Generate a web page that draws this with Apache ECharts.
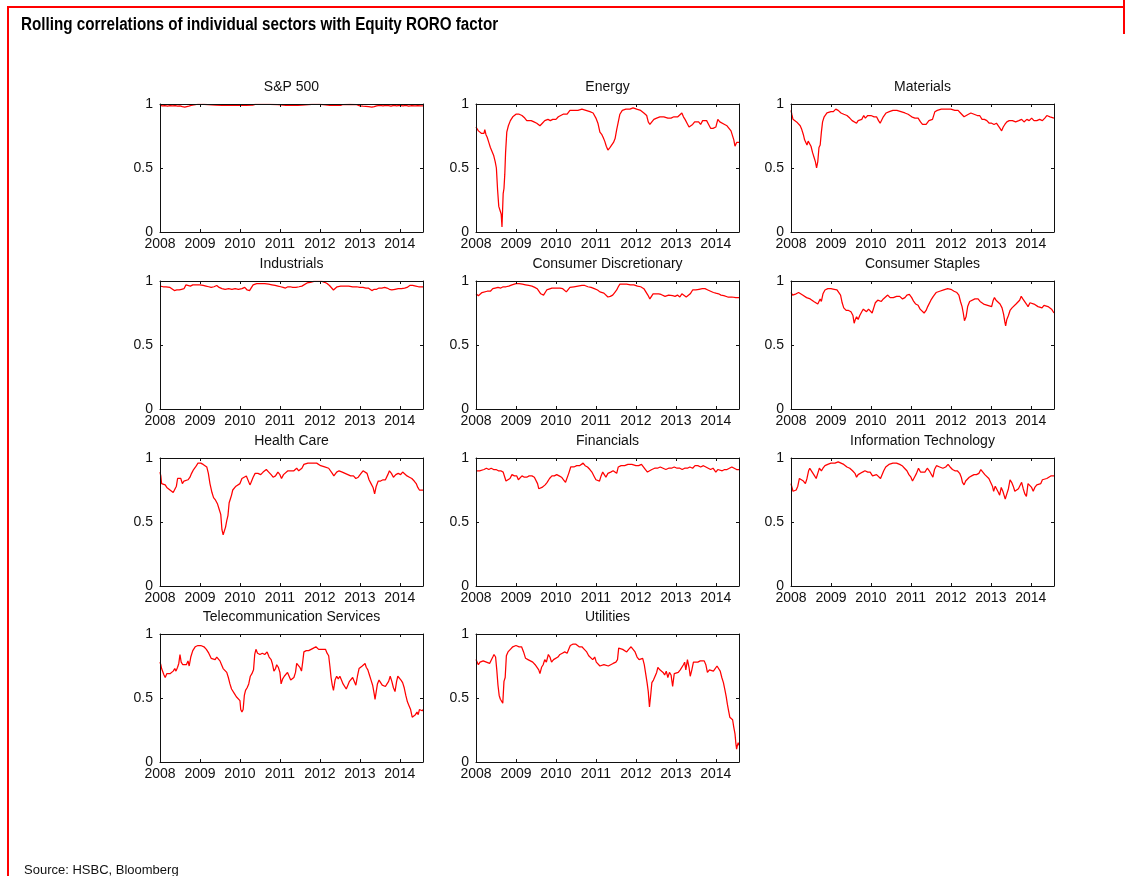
<!DOCTYPE html>
<html>
<head>
<meta charset="utf-8">
<script src="https://cdn.jsdelivr.net/npm/echarts@6/dist/echarts.min.js"></script>
<style>
  html, body { margin: 0; padding: 0; background: #fff; }
  #chart { width: 1130px; height: 876px; }
</style>
</head>
<body>
<div id="chart"></div>
<script>
// Rolling correlation of each sector with the Equity RORO factor, [year, correlation]
const sp500 = [[2008.00,0.990],[2008.06,0.986],[2008.12,0.988],[2008.19,0.984],[2008.25,0.987],[2008.31,0.985],[2008.38,0.988],[2008.44,0.983],[2008.50,0.985],[2008.56,0.979],[2008.62,0.975],[2008.67,0.977],[2008.72,0.983],[2008.78,0.989],[2008.83,0.996],[2008.95,0.998],[2009.10,0.998],[2009.20,0.996],[2009.25,0.991],[2009.40,0.992],[2009.55,0.990],[2009.70,0.991],[2009.85,0.990],[2010.00,0.991],[2010.15,0.990],[2010.32,0.991],[2010.38,0.997],[2010.55,0.998],[2010.75,0.998],[2010.95,0.996],[2011.00,0.991],[2011.15,0.990],[2011.30,0.991],[2011.45,0.990],[2011.55,0.991],[2011.60,0.997],[2011.80,0.998],[2012.00,0.998],[2012.08,0.995],[2012.12,0.991],[2012.25,0.990],[2012.40,0.991],[2012.52,0.990],[2012.58,0.996],[2012.75,0.997],[2012.92,0.995],[2013.00,0.986],[2013.08,0.983],[2013.15,0.981],[2013.22,0.979],[2013.30,0.976],[2013.36,0.980],[2013.42,0.986],[2013.50,0.989],[2013.58,0.986],[2013.65,0.990],[2013.72,0.987],[2013.78,0.983],[2013.85,0.989],[2013.92,0.985],[2014.00,0.990],[2014.08,0.986],[2014.15,0.989],[2014.22,0.984],[2014.30,0.988],[2014.38,0.985],[2014.45,0.987],[2014.52,0.985],[2014.58,0.986]];

const energy = [[2008.00,0.82],[2008.03,0.83],[2008.06,0.79],[2008.10,0.78],[2008.14,0.77],[2008.18,0.78],[2008.20,0.77],[2008.22,0.80],[2008.25,0.76],[2008.28,0.74],[2008.32,0.70],[2008.36,0.66],[2008.40,0.65],[2008.44,0.60],[2008.48,0.55],[2008.51,0.50],[2008.54,0.33],[2008.57,0.20],[2008.60,0.17],[2008.63,0.14],[2008.65,0.04],[2008.67,0.03],[2008.68,0.30],[2008.70,0.34],[2008.72,0.45],[2008.74,0.62],[2008.77,0.78],[2008.81,0.83],[2008.86,0.87],[2008.92,0.90],[2009.00,0.92],[2009.08,0.92],[2009.15,0.91],[2009.22,0.89],[2009.27,0.87],[2009.32,0.88],[2009.38,0.87],[2009.45,0.86],[2009.52,0.85],[2009.60,0.83],[2009.66,0.85],[2009.72,0.87],[2009.80,0.88],[2009.86,0.87],[2009.92,0.88],[2010.00,0.88],[2010.06,0.90],[2010.12,0.91],[2010.18,0.92],[2010.23,0.93],[2010.28,0.92],[2010.35,0.95],[2010.45,0.95],[2010.55,0.95],[2010.65,0.96],[2010.75,0.95],[2010.85,0.94],[2010.93,0.93],[2011.00,0.89],[2011.05,0.85],[2011.10,0.78],[2011.15,0.76],[2011.18,0.74],[2011.22,0.71],[2011.26,0.67],[2011.30,0.64],[2011.35,0.66],[2011.39,0.65],[2011.44,0.70],[2011.48,0.73],[2011.52,0.80],[2011.56,0.86],[2011.60,0.92],[2011.66,0.95],[2011.75,0.96],[2011.85,0.96],[2011.93,0.97],[2012.02,0.96],[2012.12,0.95],[2012.20,0.93],[2012.27,0.91],[2012.31,0.86],[2012.35,0.84],[2012.40,0.84],[2012.45,0.88],[2012.52,0.89],[2012.60,0.90],[2012.70,0.90],[2012.80,0.89],[2012.88,0.89],[2012.95,0.90],[2013.05,0.90],[2013.10,0.91],[2013.15,0.93],[2013.19,0.90],[2013.23,0.88],[2013.28,0.85],[2013.33,0.82],[2013.37,0.81],[2013.42,0.84],[2013.47,0.86],[2013.52,0.87],[2013.57,0.86],[2013.62,0.84],[2013.67,0.87],[2013.72,0.86],[2013.77,0.87],[2013.82,0.84],[2013.87,0.81],[2013.93,0.81],[2014.00,0.82],[2014.05,0.88],[2014.10,0.86],[2014.15,0.85],[2014.22,0.84],[2014.28,0.83],[2014.33,0.81],[2014.38,0.79],[2014.42,0.80],[2014.45,0.72],[2014.48,0.67],[2014.52,0.70],[2014.55,0.69],[2014.58,0.70]];

const materials = [[2008.00,0.95],[2008.02,0.92],[2008.05,0.88],[2008.10,0.87],[2008.14,0.86],[2008.19,0.85],[2008.23,0.83],[2008.27,0.80],[2008.31,0.76],[2008.34,0.72],[2008.37,0.73],[2008.40,0.68],[2008.43,0.71],[2008.46,0.70],[2008.50,0.67],[2008.54,0.62],[2008.58,0.58],[2008.61,0.55],[2008.64,0.50],[2008.67,0.55],[2008.70,0.66],[2008.73,0.68],[2008.76,0.78],[2008.79,0.86],[2008.83,0.90],[2008.90,0.93],[2009.00,0.94],[2009.06,0.94],[2009.12,0.96],[2009.18,0.95],[2009.25,0.93],[2009.32,0.92],[2009.40,0.91],[2009.47,0.89],[2009.53,0.87],[2009.58,0.88],[2009.64,0.85],[2009.68,0.87],[2009.72,0.86],[2009.77,0.88],[2009.82,0.91],[2009.86,0.89],[2009.92,0.91],[2010.00,0.91],[2010.08,0.90],[2010.14,0.90],[2010.19,0.87],[2010.23,0.85],[2010.27,0.86],[2010.31,0.90],[2010.38,0.93],[2010.46,0.94],[2010.55,0.95],[2010.65,0.95],[2010.75,0.94],[2010.85,0.93],[2010.93,0.92],[2011.02,0.90],[2011.10,0.89],[2011.18,0.89],[2011.24,0.86],[2011.29,0.84],[2011.33,0.83],[2011.38,0.84],[2011.42,0.83],[2011.45,0.87],[2011.49,0.86],[2011.54,0.88],[2011.57,0.87],[2011.60,0.94],[2011.66,0.95],[2011.76,0.96],[2011.88,0.96],[2012.00,0.96],[2012.10,0.95],[2012.18,0.95],[2012.24,0.93],[2012.28,0.92],[2012.33,0.90],[2012.38,0.91],[2012.44,0.92],[2012.50,0.93],[2012.58,0.92],[2012.66,0.91],[2012.72,0.91],[2012.78,0.88],[2012.84,0.88],[2012.90,0.87],[2012.96,0.85],[2013.02,0.85],[2013.08,0.84],[2013.14,0.85],[2013.19,0.84],[2013.23,0.81],[2013.27,0.79],[2013.31,0.82],[2013.35,0.84],[2013.40,0.86],[2013.46,0.87],[2013.54,0.87],[2013.62,0.86],[2013.70,0.87],[2013.77,0.88],[2013.83,0.86],[2013.90,0.88],[2013.96,0.87],[2014.02,0.89],[2014.08,0.87],[2014.15,0.87],[2014.22,0.88],[2014.29,0.87],[2014.35,0.89],[2014.40,0.91],[2014.44,0.92],[2014.48,0.90],[2014.53,0.91],[2014.58,0.89]];

const industrials = [[2008.00,0.96],[2008.08,0.955],[2008.15,0.955],[2008.20,0.965],[2008.25,0.95],[2008.30,0.935],[2008.36,0.925],[2008.42,0.93],[2008.48,0.93],[2008.54,0.935],[2008.60,0.94],[2008.65,0.97],[2008.70,0.965],[2008.76,0.96],[2008.82,0.97],[2008.90,0.97],[2009.00,0.97],[2009.08,0.965],[2009.15,0.96],[2009.22,0.955],[2009.28,0.95],[2009.35,0.955],[2009.42,0.965],[2009.48,0.95],[2009.55,0.94],[2009.63,0.935],[2009.72,0.94],[2009.80,0.935],[2009.88,0.94],[2009.96,0.935],[2010.05,0.94],[2010.12,0.95],[2010.18,0.93],[2010.24,0.925],[2010.28,0.935],[2010.33,0.97],[2010.42,0.98],[2010.52,0.98],[2010.62,0.98],[2010.72,0.975],[2010.80,0.97],[2010.88,0.965],[2010.95,0.96],[2011.02,0.955],[2011.08,0.95],[2011.14,0.945],[2011.20,0.955],[2011.26,0.955],[2011.32,0.95],[2011.40,0.95],[2011.48,0.955],[2011.55,0.96],[2011.60,0.975],[2011.68,0.985],[2011.76,0.99],[2011.85,0.997],[2011.95,0.998],[2012.05,0.997],[2012.12,0.99],[2012.18,0.98],[2012.24,0.965],[2012.29,0.95],[2012.34,0.93],[2012.38,0.945],[2012.43,0.955],[2012.52,0.96],[2012.62,0.96],[2012.72,0.96],[2012.82,0.955],[2012.92,0.955],[2013.00,0.95],[2013.08,0.95],[2013.15,0.945],[2013.21,0.945],[2013.26,0.93],[2013.30,0.925],[2013.36,0.935],[2013.42,0.935],[2013.48,0.945],[2013.55,0.945],[2013.62,0.95],[2013.68,0.945],[2013.74,0.935],[2013.80,0.93],[2013.88,0.935],[2013.96,0.94],[2014.04,0.94],[2014.12,0.945],[2014.18,0.95],[2014.25,0.965],[2014.32,0.965],[2014.40,0.96],[2014.47,0.955],[2014.53,0.955],[2014.58,0.955]];

const consumerDiscretionary = [[2008.00,0.90],[2008.03,0.89],[2008.06,0.885],[2008.10,0.90],[2008.15,0.91],[2008.20,0.92],[2008.28,0.92],[2008.36,0.92],[2008.42,0.94],[2008.48,0.945],[2008.55,0.95],[2008.62,0.945],[2008.68,0.955],[2008.75,0.955],[2008.82,0.96],[2008.90,0.97],[2009.00,0.98],[2009.08,0.98],[2009.16,0.975],[2009.24,0.97],[2009.32,0.965],[2009.40,0.96],[2009.47,0.95],[2009.53,0.94],[2009.58,0.93],[2009.62,0.90],[2009.65,0.885],[2009.69,0.89],[2009.73,0.90],[2009.77,0.93],[2009.81,0.945],[2009.90,0.945],[2010.00,0.945],[2010.10,0.945],[2010.17,0.94],[2010.22,0.925],[2010.26,0.915],[2010.30,0.93],[2010.35,0.95],[2010.45,0.955],[2010.55,0.96],[2010.65,0.965],[2010.72,0.965],[2010.80,0.955],[2010.88,0.95],[2010.96,0.94],[2011.04,0.93],[2011.10,0.915],[2011.15,0.91],[2011.20,0.905],[2011.25,0.89],[2011.30,0.875],[2011.36,0.88],[2011.42,0.89],[2011.47,0.91],[2011.52,0.93],[2011.56,0.955],[2011.60,0.975],[2011.68,0.975],[2011.77,0.975],[2011.86,0.97],[2011.95,0.97],[2012.04,0.96],[2012.12,0.955],[2012.20,0.94],[2012.25,0.925],[2012.30,0.89],[2012.35,0.86],[2012.38,0.875],[2012.43,0.90],[2012.50,0.90],[2012.57,0.90],[2012.63,0.895],[2012.68,0.90],[2012.73,0.88],[2012.77,0.87],[2012.82,0.89],[2012.87,0.875],[2012.92,0.885],[2012.98,0.88],[2013.04,0.89],[2013.10,0.875],[2013.15,0.90],[2013.20,0.89],[2013.26,0.875],[2013.31,0.88],[2013.36,0.90],[2013.42,0.93],[2013.50,0.93],[2013.58,0.935],[2013.66,0.94],[2013.73,0.94],[2013.80,0.93],[2013.87,0.92],[2013.94,0.91],[2014.00,0.905],[2014.07,0.90],[2014.13,0.89],[2014.20,0.885],[2014.25,0.87],[2014.30,0.875],[2014.35,0.865],[2014.40,0.875],[2014.45,0.865],[2014.50,0.87],[2014.55,0.87],[2014.58,0.87]];

const consumerStaples = [[2008.00,0.91],[2008.04,0.89],[2008.08,0.89],[2008.13,0.90],[2008.19,0.91],[2008.24,0.90],[2008.29,0.89],[2008.34,0.88],[2008.39,0.87],[2008.44,0.87],[2008.48,0.86],[2008.52,0.87],[2008.57,0.84],[2008.62,0.83],[2008.67,0.82],[2008.70,0.83],[2008.73,0.86],[2008.76,0.84],[2008.80,0.90],[2008.85,0.93],[2008.92,0.94],[2009.00,0.94],[2009.08,0.935],[2009.15,0.93],[2009.20,0.925],[2009.24,0.89],[2009.28,0.83],[2009.32,0.79],[2009.38,0.77],[2009.44,0.77],[2009.50,0.76],[2009.55,0.73],[2009.58,0.67],[2009.61,0.70],[2009.64,0.72],[2009.68,0.70],[2009.72,0.73],[2009.77,0.76],[2009.81,0.78],[2009.85,0.79],[2009.89,0.76],[2009.94,0.78],[2009.99,0.77],[2010.03,0.75],[2010.07,0.79],[2010.11,0.83],[2010.17,0.85],[2010.22,0.86],[2010.26,0.84],[2010.31,0.86],[2010.36,0.87],[2010.42,0.89],[2010.48,0.87],[2010.56,0.87],[2010.64,0.88],[2010.72,0.88],[2010.79,0.86],[2010.85,0.87],[2010.90,0.89],[2010.96,0.895],[2011.02,0.87],[2011.07,0.84],[2011.12,0.82],[2011.18,0.81],[2011.23,0.78],[2011.28,0.77],[2011.33,0.75],[2011.38,0.77],[2011.42,0.80],[2011.46,0.81],[2011.50,0.85],[2011.56,0.88],[2011.63,0.91],[2011.72,0.92],[2011.82,0.93],[2011.92,0.94],[2012.00,0.935],[2012.08,0.92],[2012.15,0.91],[2012.20,0.89],[2012.24,0.84],[2012.28,0.80],[2012.31,0.75],[2012.34,0.69],[2012.38,0.72],[2012.42,0.80],[2012.47,0.84],[2012.52,0.85],[2012.60,0.86],[2012.68,0.86],[2012.73,0.84],[2012.78,0.83],[2012.82,0.82],[2012.87,0.82],[2012.92,0.81],[2012.97,0.82],[2013.02,0.80],[2013.06,0.85],[2013.09,0.87],[2013.13,0.85],[2013.18,0.84],[2013.23,0.82],[2013.28,0.79],[2013.32,0.74],[2013.35,0.68],[2013.37,0.65],[2013.40,0.70],[2013.44,0.73],[2013.48,0.77],[2013.53,0.79],[2013.58,0.80],[2013.63,0.82],[2013.68,0.83],[2013.72,0.85],[2013.76,0.88],[2013.80,0.86],[2013.85,0.85],[2013.89,0.82],[2013.93,0.80],[2013.98,0.83],[2014.03,0.83],[2014.08,0.82],[2014.13,0.81],[2014.18,0.80],[2014.23,0.81],[2014.28,0.79],[2014.33,0.81],[2014.38,0.81],[2014.43,0.80],[2014.48,0.80],[2014.52,0.78],[2014.56,0.76],[2014.58,0.75]];

const healthCare = [[2008.00,0.89],[2008.02,0.86],[2008.04,0.80],[2008.08,0.79],[2008.13,0.79],[2008.17,0.77],[2008.21,0.77],[2008.25,0.75],[2008.29,0.74],[2008.33,0.73],[2008.37,0.74],[2008.41,0.78],[2008.44,0.84],[2008.48,0.83],[2008.52,0.84],[2008.56,0.80],[2008.60,0.82],[2008.65,0.82],[2008.70,0.83],[2008.75,0.85],[2008.79,0.88],[2008.84,0.91],[2008.89,0.93],[2008.95,0.96],[2009.02,0.96],[2009.08,0.95],[2009.13,0.95],[2009.17,0.93],[2009.21,0.88],[2009.25,0.80],[2009.30,0.73],[2009.34,0.69],[2009.39,0.67],[2009.44,0.64],[2009.48,0.60],[2009.52,0.56],[2009.55,0.44],[2009.58,0.40],[2009.61,0.39],[2009.64,0.46],[2009.67,0.51],[2009.70,0.55],[2009.73,0.65],[2009.76,0.68],[2009.79,0.71],[2009.82,0.75],[2009.86,0.76],[2009.90,0.78],[2009.95,0.79],[2010.00,0.80],[2010.05,0.84],[2010.10,0.85],[2010.16,0.86],[2010.21,0.86],[2010.25,0.79],[2010.28,0.81],[2010.33,0.85],[2010.38,0.88],[2010.45,0.88],[2010.52,0.87],[2010.58,0.89],[2010.66,0.91],[2010.72,0.89],[2010.78,0.87],[2010.83,0.85],[2010.89,0.86],[2010.95,0.89],[2011.00,0.87],[2011.04,0.84],[2011.09,0.87],[2011.14,0.88],[2011.20,0.90],[2011.28,0.90],[2011.35,0.90],[2011.42,0.92],[2011.47,0.90],[2011.51,0.89],[2011.55,0.92],[2011.60,0.95],[2011.70,0.96],[2011.80,0.96],[2011.92,0.96],[2012.02,0.94],[2012.12,0.93],[2012.22,0.92],[2012.27,0.91],[2012.31,0.88],[2012.35,0.86],[2012.38,0.85],[2012.42,0.89],[2012.48,0.90],[2012.56,0.89],[2012.63,0.88],[2012.70,0.87],[2012.77,0.86],[2012.84,0.86],[2012.90,0.84],[2012.96,0.85],[2013.03,0.88],[2013.08,0.90],[2013.13,0.89],[2013.18,0.88],[2013.23,0.83],[2013.28,0.80],[2013.33,0.77],[2013.37,0.72],[2013.41,0.78],[2013.46,0.82],[2013.52,0.82],[2013.58,0.83],[2013.64,0.83],[2013.70,0.87],[2013.74,0.90],[2013.79,0.88],[2013.84,0.85],[2013.90,0.87],[2013.96,0.88],[2014.02,0.87],[2014.07,0.89],[2014.12,0.88],[2014.18,0.86],[2014.24,0.85],[2014.30,0.84],[2014.36,0.82],[2014.41,0.80],[2014.45,0.77],[2014.49,0.75],[2014.54,0.75],[2014.58,0.75]];

const financials = [[2008.00,0.90],[2008.04,0.89],[2008.09,0.90],[2008.14,0.91],[2008.20,0.91],[2008.26,0.92],[2008.32,0.91],[2008.38,0.92],[2008.44,0.91],[2008.50,0.91],[2008.56,0.90],[2008.62,0.90],[2008.68,0.89],[2008.72,0.85],[2008.75,0.82],[2008.80,0.83],[2008.85,0.84],[2008.90,0.87],[2008.96,0.86],[2009.02,0.86],[2009.06,0.83],[2009.10,0.84],[2009.15,0.86],[2009.21,0.85],[2009.27,0.85],[2009.33,0.86],[2009.40,0.86],[2009.46,0.85],[2009.50,0.84],[2009.54,0.80],[2009.57,0.76],[2009.61,0.76],[2009.65,0.77],[2009.69,0.78],[2009.73,0.79],[2009.78,0.81],[2009.84,0.84],[2009.90,0.86],[2009.96,0.86],[2010.02,0.87],[2010.08,0.86],[2010.14,0.85],[2010.19,0.83],[2010.24,0.81],[2010.28,0.82],[2010.32,0.88],[2010.37,0.93],[2010.45,0.93],[2010.52,0.94],[2010.59,0.94],[2010.64,0.95],[2010.68,0.96],[2010.73,0.94],[2010.79,0.93],[2010.85,0.91],[2010.90,0.89],[2010.95,0.86],[2011.00,0.83],[2011.05,0.82],[2011.09,0.82],[2011.13,0.86],[2011.17,0.89],[2011.21,0.87],[2011.25,0.85],[2011.30,0.88],[2011.37,0.89],[2011.43,0.90],[2011.48,0.89],[2011.52,0.88],[2011.56,0.93],[2011.63,0.94],[2011.72,0.94],[2011.80,0.95],[2011.90,0.95],[2012.00,0.94],[2012.07,0.94],[2012.14,0.95],[2012.19,0.94],[2012.24,0.91],[2012.29,0.89],[2012.34,0.90],[2012.40,0.91],[2012.47,0.92],[2012.54,0.92],[2012.61,0.93],[2012.68,0.92],[2012.75,0.91],[2012.82,0.92],[2012.89,0.92],[2012.96,0.93],[2013.03,0.92],[2013.10,0.92],[2013.16,0.91],[2013.22,0.92],[2013.29,0.92],[2013.35,0.93],[2013.42,0.92],[2013.48,0.94],[2013.55,0.94],[2013.62,0.93],[2013.69,0.94],[2013.75,0.93],[2013.81,0.92],[2013.87,0.91],[2013.93,0.92],[2014.00,0.89],[2014.05,0.91],[2014.10,0.92],[2014.16,0.90],[2014.22,0.91],[2014.28,0.91],[2014.34,0.92],[2014.40,0.93],[2014.46,0.92],[2014.52,0.91],[2014.58,0.91]];

const informationTechnology = [[2008.00,0.80],[2008.02,0.79],[2008.05,0.74],[2008.09,0.74],[2008.13,0.75],[2008.17,0.78],[2008.21,0.84],[2008.26,0.83],[2008.31,0.82],[2008.36,0.80],[2008.40,0.84],[2008.44,0.90],[2008.47,0.92],[2008.51,0.90],[2008.55,0.88],[2008.59,0.86],[2008.63,0.84],[2008.67,0.88],[2008.71,0.92],[2008.76,0.90],[2008.80,0.92],[2008.85,0.94],[2008.92,0.95],[2009.00,0.96],[2009.10,0.96],[2009.18,0.97],[2009.25,0.96],[2009.32,0.95],[2009.40,0.93],[2009.47,0.92],[2009.54,0.90],[2009.60,0.88],[2009.64,0.85],[2009.68,0.87],[2009.73,0.88],[2009.79,0.89],[2009.85,0.90],[2009.92,0.89],[2009.98,0.89],[2010.04,0.86],[2010.09,0.85],[2010.14,0.87],[2010.19,0.86],[2010.24,0.84],[2010.28,0.85],[2010.32,0.90],[2010.37,0.93],[2010.45,0.95],[2010.55,0.96],[2010.64,0.96],[2010.72,0.95],[2010.78,0.94],[2010.84,0.92],[2010.90,0.90],[2010.95,0.87],[2011.00,0.85],[2011.04,0.82],[2011.09,0.85],[2011.14,0.88],[2011.19,0.92],[2011.24,0.89],[2011.29,0.88],[2011.35,0.89],[2011.41,0.92],[2011.46,0.90],[2011.51,0.89],[2011.55,0.85],[2011.59,0.91],[2011.64,0.94],[2011.72,0.93],[2011.80,0.92],[2011.87,0.93],[2011.93,0.95],[2011.98,0.93],[2012.04,0.91],[2012.10,0.90],[2012.16,0.90],[2012.22,0.88],[2012.26,0.85],[2012.29,0.81],[2012.33,0.79],[2012.37,0.82],[2012.41,0.83],[2012.46,0.85],[2012.52,0.86],[2012.58,0.87],[2012.64,0.87],[2012.70,0.88],[2012.75,0.91],[2012.80,0.89],[2012.85,0.87],[2012.90,0.86],[2012.95,0.84],[2013.00,0.83],[2013.04,0.78],[2013.07,0.74],[2013.11,0.78],[2013.15,0.79],[2013.19,0.73],[2013.22,0.71],[2013.26,0.77],[2013.30,0.74],[2013.33,0.71],[2013.36,0.68],[2013.40,0.72],[2013.44,0.76],[2013.48,0.83],[2013.52,0.81],[2013.56,0.78],[2013.60,0.74],[2013.64,0.73],[2013.69,0.76],[2013.73,0.75],[2013.77,0.81],[2013.81,0.76],[2013.85,0.72],[2013.89,0.70],[2013.93,0.80],[2013.98,0.79],[2014.02,0.77],[2014.06,0.74],[2014.10,0.77],[2014.15,0.79],[2014.20,0.78],[2014.25,0.80],[2014.29,0.83],[2014.34,0.83],[2014.40,0.84],[2014.45,0.85],[2014.50,0.86],[2014.54,0.87],[2014.58,0.86]];

const telecommunication = [[2008.00,0.78],[2008.02,0.76],[2008.04,0.73],[2008.07,0.74],[2008.10,0.68],[2008.13,0.66],[2008.17,0.69],[2008.21,0.70],[2008.25,0.69],[2008.29,0.68],[2008.33,0.71],[2008.37,0.73],[2008.40,0.71],[2008.44,0.74],[2008.47,0.77],[2008.50,0.84],[2008.53,0.78],[2008.57,0.76],[2008.62,0.77],[2008.66,0.76],[2008.70,0.79],[2008.73,0.75],[2008.77,0.82],[2008.82,0.87],[2008.88,0.90],[2008.95,0.91],[2009.02,0.91],[2009.10,0.90],[2009.16,0.88],[2009.22,0.85],[2009.28,0.81],[2009.33,0.80],[2009.38,0.80],[2009.42,0.82],[2009.46,0.83],[2009.50,0.79],[2009.54,0.76],[2009.58,0.73],[2009.63,0.72],[2009.67,0.70],[2009.71,0.66],[2009.75,0.61],[2009.79,0.57],[2009.83,0.56],[2009.87,0.53],[2009.91,0.51],[2009.96,0.50],[2010.00,0.48],[2010.02,0.41],[2010.05,0.39],[2010.08,0.41],[2010.11,0.52],[2010.14,0.56],[2010.18,0.58],[2010.22,0.61],[2010.26,0.67],[2010.30,0.69],[2010.34,0.72],[2010.37,0.84],[2010.40,0.88],[2010.44,0.85],[2010.50,0.84],[2010.56,0.85],[2010.62,0.84],[2010.68,0.86],[2010.73,0.82],[2010.78,0.80],[2010.81,0.77],[2010.85,0.71],[2010.89,0.73],[2010.92,0.76],[2010.96,0.74],[2011.00,0.70],[2011.03,0.61],[2011.07,0.65],[2011.11,0.67],[2011.15,0.66],[2011.19,0.70],[2011.23,0.69],[2011.27,0.64],[2011.31,0.63],[2011.35,0.66],[2011.39,0.70],[2011.42,0.77],[2011.46,0.77],[2011.50,0.74],[2011.54,0.71],[2011.57,0.78],[2011.60,0.86],[2011.66,0.87],[2011.72,0.87],[2011.78,0.88],[2011.84,0.89],[2011.90,0.90],[2011.93,0.91],[2011.97,0.88],[2012.02,0.87],[2012.06,0.88],[2012.10,0.87],[2012.14,0.88],[2012.18,0.85],[2012.22,0.83],[2012.25,0.75],[2012.28,0.66],[2012.31,0.60],[2012.34,0.56],[2012.38,0.64],[2012.42,0.67],[2012.46,0.65],[2012.50,0.67],[2012.54,0.64],[2012.58,0.61],[2012.62,0.62],[2012.66,0.57],[2012.70,0.60],[2012.74,0.63],[2012.78,0.62],[2012.82,0.66],[2012.86,0.65],[2012.90,0.60],[2012.94,0.67],[2012.98,0.73],[2013.02,0.72],[2013.06,0.75],[2013.10,0.74],[2013.13,0.77],[2013.16,0.74],[2013.20,0.72],[2013.24,0.68],[2013.28,0.64],[2013.32,0.60],[2013.36,0.53],[2013.38,0.49],[2013.41,0.55],[2013.44,0.61],[2013.48,0.64],[2013.52,0.62],[2013.56,0.60],[2013.60,0.61],[2013.64,0.59],[2013.68,0.61],[2013.72,0.63],[2013.76,0.67],[2013.80,0.63],[2013.84,0.58],[2013.88,0.55],[2013.92,0.63],[2013.95,0.67],[2013.99,0.66],[2014.03,0.64],[2014.07,0.62],[2014.11,0.58],[2014.15,0.52],[2014.19,0.47],[2014.23,0.44],[2014.27,0.41],[2014.31,0.35],[2014.35,0.35],[2014.39,0.37],[2014.43,0.39],[2014.46,0.37],[2014.49,0.41],[2014.53,0.42],[2014.56,0.40],[2014.58,0.41]];

const utilities = [[2008.00,0.80],[2008.03,0.78],[2008.06,0.76],[2008.10,0.78],[2008.14,0.78],[2008.18,0.79],[2008.22,0.80],[2008.26,0.78],[2008.30,0.78],[2008.34,0.77],[2008.38,0.77],[2008.42,0.82],[2008.45,0.84],[2008.49,0.82],[2008.52,0.72],[2008.55,0.60],[2008.58,0.52],[2008.61,0.49],[2008.64,0.48],[2008.67,0.46],[2008.70,0.63],[2008.73,0.66],[2008.76,0.83],[2008.80,0.86],[2008.86,0.88],[2008.92,0.90],[2009.00,0.91],[2009.08,0.90],[2009.14,0.90],[2009.19,0.86],[2009.24,0.81],[2009.30,0.80],[2009.36,0.79],[2009.42,0.78],[2009.48,0.76],[2009.53,0.75],[2009.57,0.72],[2009.60,0.69],[2009.64,0.74],[2009.68,0.76],[2009.72,0.80],[2009.76,0.78],[2009.81,0.84],[2009.85,0.82],[2009.89,0.78],[2009.94,0.80],[2009.99,0.80],[2010.05,0.82],[2010.10,0.84],[2010.16,0.85],[2010.22,0.86],[2010.28,0.85],[2010.32,0.88],[2010.36,0.91],[2010.42,0.92],[2010.50,0.92],[2010.58,0.90],[2010.65,0.90],[2010.71,0.88],[2010.77,0.86],[2010.82,0.83],[2010.87,0.82],[2010.92,0.80],[2010.97,0.82],[2011.01,0.78],[2011.06,0.77],[2011.10,0.75],[2011.15,0.74],[2011.20,0.76],[2011.25,0.75],[2011.31,0.75],[2011.37,0.76],[2011.43,0.77],[2011.50,0.78],[2011.54,0.80],[2011.57,0.89],[2011.62,0.89],[2011.67,0.88],[2011.72,0.89],[2011.77,0.86],[2011.82,0.88],[2011.88,0.90],[2011.93,0.88],[2011.98,0.86],[2012.03,0.82],[2012.08,0.80],[2012.13,0.79],[2012.17,0.81],[2012.21,0.76],[2012.25,0.68],[2012.28,0.62],[2012.31,0.55],[2012.34,0.43],[2012.37,0.52],[2012.40,0.62],[2012.44,0.64],[2012.48,0.67],[2012.52,0.70],[2012.55,0.74],[2012.60,0.72],[2012.64,0.71],[2012.68,0.70],[2012.72,0.68],[2012.76,0.71],[2012.80,0.66],[2012.84,0.70],[2012.88,0.68],[2012.92,0.59],[2012.96,0.69],[2013.01,0.70],[2013.06,0.70],[2013.11,0.72],[2013.15,0.72],[2013.19,0.76],[2013.22,0.78],[2013.25,0.72],[2013.29,0.80],[2013.33,0.74],[2013.36,0.67],[2013.40,0.72],[2013.44,0.78],[2013.49,0.79],[2013.55,0.78],[2013.61,0.79],[2013.66,0.78],[2013.71,0.79],[2013.75,0.76],[2013.79,0.70],[2013.84,0.72],[2013.89,0.73],[2013.94,0.71],[2013.99,0.72],[2014.03,0.75],[2014.07,0.74],[2014.11,0.71],[2014.15,0.66],[2014.19,0.62],[2014.23,0.56],[2014.26,0.51],[2014.29,0.45],[2014.32,0.40],[2014.35,0.35],[2014.39,0.35],[2014.42,0.33],[2014.45,0.27],[2014.48,0.22],[2014.50,0.15],[2014.52,0.10],[2014.54,0.13],[2014.56,0.15],[2014.58,0.13]];

const sectorNames = ['S&P 500', 'Energy', 'Materials', 'Industrials', 'Consumer Discretionary',
  'Consumer Staples', 'Health Care', 'Financials', 'Information Technology',
  'Telecommunication Services', 'Utilities'];
const sectorSeries = [sp500, energy, materials, industrials, consumerDiscretionary,
  consumerStaples, healthCare, financials, informationTechnology, telecommunication, utilities];

const xTicks = [2008, 2009, 2010, 2011, 2012, 2013, 2014];
const yTicks = [0, 0.5, 1];
const X_MIN = 2008, X_MAX = 2014.58;

const chartTitle = 'Rolling correlations of individual sectors with Equity RORO factor';
const sourceNote = 'Source: HSBC, Bloomberg';

// Small-multiple layout: 3 columns, 4 rows of boxed panels
const COL_LEFT = [160, 476, 791];
const ROW_TOP = [104, 281, 458, 634];
const PLOT_W = 263, PLOT_H = 128;
const FONT = "'Liberation Sans', Arial, Helvetica, sans-serif";
const INK = '#111';
const LINE_RED = '#ff0000';

const grids = [], xAxes = [], yAxes = [], series = [], graphics = [];

sectorNames.forEach((name, i) => {
  const left = COL_LEFT[i % 3];
  const top = ROW_TOP[Math.floor(i / 3)];
  grids.push({ left, top, width: PLOT_W, height: PLOT_H, containLabel: false, outerBoundsMode: 'none' });

  const tickStyle = { show: true, inside: true, length: 3, lineStyle: { color: INK, width: 1 } };
  const lineStyle = { show: true, onZero: false, lineStyle: { color: INK, width: 1 } };

  // bottom axis with year labels, top axis mirrors the ticks
  xAxes.push({
    type: 'value', gridIndex: i, position: 'bottom', min: X_MIN, max: X_MAX, interval: 1, z: 3,
    axisLine: lineStyle, axisTick: tickStyle, splitLine: { show: false },
    axisLabel: {
      show: true, color: INK, fontSize: 14, fontFamily: FONT, margin: 5,
      showMaxLabel: false, hideOverlap: false,
      formatter: v => (xTicks.includes(v) ? String(v) : '')
    }
  });
  xAxes.push({
    type: 'value', gridIndex: i, position: 'top', min: X_MIN, max: X_MAX, interval: 1, z: 3,
    axisLine: lineStyle, axisTick: tickStyle, splitLine: { show: false }, axisLabel: { show: false }
  });
  yAxes.push({
    type: 'value', gridIndex: i, position: 'left', min: yTicks[0], max: yTicks[2], interval: 0.5, z: 3,
    axisLine: lineStyle, axisTick: tickStyle, splitLine: { show: false },
    axisLabel: { show: true, color: INK, fontSize: 14, fontFamily: FONT, margin: 7, hideOverlap: false }
  });
  yAxes.push({
    type: 'value', gridIndex: i, position: 'right', min: yTicks[0], max: yTicks[2], interval: 0.5, z: 3,
    axisLine: lineStyle, axisTick: tickStyle, splitLine: { show: false }, axisLabel: { show: false }
  });

  series.push({
    type: 'line', name, xAxisIndex: 2 * i, yAxisIndex: 2 * i, data: sectorSeries[i],
    showSymbol: false, symbol: 'none', silent: true, z: 2,
    lineStyle: { color: LINE_RED, width: 1.25 }, itemStyle: { color: LINE_RED }
  });

  graphics.push({
    type: 'text', x: left + PLOT_W / 2, y: top - 17, silent: true,
    style: { text: name, font: '14px ' + FONT, fill: INK, textAlign: 'center', textVerticalAlign: 'middle' }
  });
});

// Report frame, headline and source line
graphics.push(
  { type: 'line', silent: true, shape: { x1: 8, y1: 7, x2: 8, y2: 876 }, style: { stroke: LINE_RED, lineWidth: 2 } },
  { type: 'line', silent: true, shape: { x1: 7, y1: 7, x2: 1124, y2: 7 }, style: { stroke: LINE_RED, lineWidth: 2 } },
  { type: 'line', silent: true, shape: { x1: 1124, y1: 0, x2: 1124, y2: 34 }, style: { stroke: LINE_RED, lineWidth: 2 } },
  {
    type: 'text', x: 21, y: 25, scaleX: 0.87, silent: true,
    style: { text: chartTitle, font: 'bold 17.5px ' + FONT, fill: '#000', textAlign: 'left', textVerticalAlign: 'middle' }
  },
  {
    type: 'text', x: 24, y: 870, silent: true,
    style: { text: sourceNote, font: '13px ' + FONT, fill: INK, textAlign: 'left', textVerticalAlign: 'middle' }
  }
);

const chart = echarts.init(document.getElementById('chart'), null, { renderer: 'canvas' });
chart.setOption({
  animation: false,
  backgroundColor: '#ffffff',
  grid: grids,
  xAxis: xAxes,
  yAxis: yAxes,
  series,
  graphic: { elements: graphics }
});
</script>
</body>
</html>
